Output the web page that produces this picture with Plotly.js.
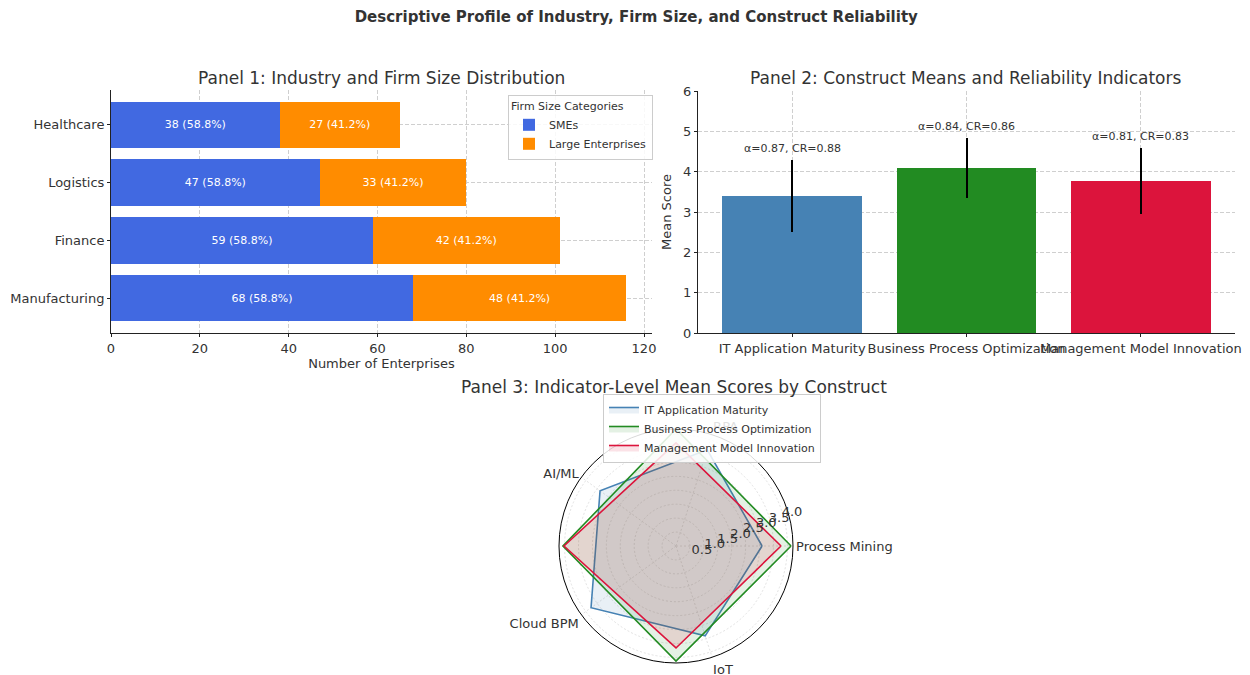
<!DOCTYPE html>
<html>
<head>
<meta charset="utf-8">
<script src="https://cdn.plot.ly/plotly-3.0.1.min.js"></script>
<style>html,body{margin:0;padding:0;background:#fff;}#chart{width:1250px;height:675px;}</style>
</head>
<body>
<div id="chart"></div>
<script>
// ---------- Panel 1 data ----------
const industries = ['Manufacturing', 'Finance', 'Logistics', 'Healthcare'];
const smeCounts = [68, 59, 47, 38];
const largeCounts = [48, 42, 33, 27];
const smePct = [58.8, 58.8, 58.8, 58.8];
const largePct = [41.2, 41.2, 41.2, 41.2];
const sizeNames = ['SMEs', 'Large Enterprises'];

// ---------- Panel 2 data ----------
const constructs = ['IT Application Maturity', 'Business Process Optimization', 'Management Model Innovation'];
const constructMeans = [3.40, 4.09, 3.77];
const constructSD = [0.89, 0.75, 0.81];
const alphas = [0.87, 0.84, 0.81];
const crs = [0.88, 0.86, 0.83];

// ---------- Panel 3 data ----------
const indicatorLabels = ['Process Mining', 'RPA', 'AI/ML', 'Cloud BPM', 'IoT'];
const itScores = [3.09, 3.63, 3.37, 3.77, 3.39];
const bpoScores = [4.13, 4.20, 4.06, 4.13];
const mmiScores = [3.77, 3.70, 4.02, 3.66];
const radialTicks = [0.5, 1.0, 1.5, 2.0, 2.5, 3.0, 3.5, 4.0];

const FONT = 'DejaVu Sans, Liberation Sans, sans-serif';
const TXT = '#333333';
const GRID = '#cfcfcf';
const GDASH = '4px,2px';

const traces = [];
traces.push({
  type: 'bar', orientation: 'h', name: sizeNames[0],
  y: industries, x: smeCounts,
  text: smeCounts.map((v, i) => v + ' (' + smePct[i].toFixed(1) + '%)'),
  textposition: 'inside', insidetextanchor: 'middle', textangle: 0,
  textfont: {color: '#ffffff', size: 11, family: FONT},
  marker: {color: '#4169E1'}, xaxis: 'x', yaxis: 'y', legend: 'legend', hoverinfo: 'skip'
});
traces.push({
  type: 'bar', orientation: 'h', name: sizeNames[1],
  y: industries, x: largeCounts,
  text: largeCounts.map((v, i) => v + ' (' + largePct[i].toFixed(1) + '%)'),
  textposition: 'inside', insidetextanchor: 'middle', textangle: 0,
  textfont: {color: '#ffffff', size: 11, family: FONT},
  marker: {color: '#FF8C00'}, xaxis: 'x', yaxis: 'y', legend: 'legend', hoverinfo: 'skip'
});
traces.push({
  type: 'bar', x: constructs, y: constructMeans, showlegend: false,
  marker: {color: ['#4682B4', '#228B22', '#DC143C']},
  error_y: {type: 'data', array: constructSD, visible: true, color: '#000000', thickness: 2, width: 0},
  xaxis: 'x2', yaxis: 'y2', hoverinfo: 'skip'
});

const radarSeries = [
  {name: constructs[0], vals: itScores, color: '#4682B4', fill: 'rgba(70,130,180,0.12)'},
  {name: constructs[1], vals: bpoScores, color: '#228B22', fill: 'rgba(34,139,34,0.12)'},
  {name: constructs[2], vals: mmiScores, color: '#DC143C', fill: 'rgba(220,20,60,0.12)'}
];
radarSeries.forEach(s => {
  const th = s.vals.map((_, i) => i * 360 / s.vals.length);
  traces.push({
    type: 'scatterpolar', mode: 'lines', name: s.name,
    r: s.vals.concat([s.vals[0]]), theta: th.concat([360]),
    fill: 'toself', fillcolor: s.fill,
    line: {color: s.color, width: 1.6},
    legend: 'legend2', subplot: 'polar', hoverinfo: 'skip'
  });
});

const annotations = [
  {text: 'Panel 1: Industry and Firm Size Distribution', x: 0.305, y: 1 - 78 / 675, xref: 'paper', yref: 'paper', showarrow: false, font: {size: 17, color: TXT, family: FONT}, xanchor: 'center', yanchor: 'middle'},
  {text: 'Panel 2: Construct Means and Reliability Indicators', x: 0.773, y: 1 - 78 / 675, xref: 'paper', yref: 'paper', showarrow: false, font: {size: 17, color: TXT, family: FONT}, xanchor: 'center', yanchor: 'middle'},
  {text: 'Panel 3: Indicator-Level Mean Scores by Construct', x: 0.539, y: 1 - 387 / 675, xref: 'paper', yref: 'paper', showarrow: false, font: {size: 17, color: TXT, family: FONT}, xanchor: 'center', yanchor: 'middle'}
];
constructs.forEach((c, i) => {
  annotations.push({
    text: 'α=' + alphas[i].toFixed(2) + ', CR=' + crs[i].toFixed(2),
    x: c, y: constructMeans[i] + constructSD[i], xref: 'x2', yref: 'y2',
    showarrow: false, yanchor: 'bottom', yshift: 3,
    font: {size: 11, color: TXT, family: FONT}
  });
});

const layout = {
  width: 1250, height: 675,
  margin: {l: 0, r: 0, t: 0, b: 0},
  paper_bgcolor: '#ffffff', plot_bgcolor: '#ffffff',
  font: {family: FONT, color: TXT, size: 13},
  title: {text: '<b>Descriptive Profile of Industry, Firm Size, and Construct Reliability</b>', x: 0.509, xanchor: 'center', y: 1 - 17 / 675, yanchor: 'middle', font: {size: 15, color: TXT, family: FONT}},
  barmode: 'stack', bargap: 0.2,
  xaxis: {
    domain: [111 / 1250, 652 / 1250], range: [0, 121.8], tickvals: [0, 20, 40, 60, 80, 100, 120],
    showgrid: true, gridcolor: GRID, griddash: GDASH, zeroline: false,
    showline: true, linecolor: '#222', linewidth: 1, ticks: 'outside', ticklen: 3, tickcolor: '#222',
    tickfont: {size: 13, color: TXT},
    title: {text: 'Number of Enterprises', font: {size: 13, color: TXT}, standoff: 2},
    anchor: 'y'
  },
  yaxis: {
    domain: [1 - 333 / 675, 1 - 90 / 675], range: [-0.6, 3.6], type: 'category',
    showgrid: true, gridcolor: GRID, griddash: GDASH, zeroline: false,
    showline: true, linecolor: '#222', linewidth: 1, ticks: 'outside', ticklen: 3, tickcolor: '#222',
    tickfont: {size: 13, color: TXT}, anchor: 'x'
  },
  xaxis2: {
    domain: [698 / 1250, 1235 / 1250], range: [-0.54, 2.54], type: 'category', tickangle: 0,
    showgrid: true, gridcolor: GRID, griddash: GDASH, zeroline: false,
    showline: true, linecolor: '#222', linewidth: 1, ticks: 'outside', ticklen: 3, tickcolor: '#222',
    tickfont: {size: 13, color: TXT}, anchor: 'y2'
  },
  yaxis2: {
    domain: [1 - 333 / 675, 1 - 91 / 675], range: [0, 6], dtick: 1,
    showgrid: true, gridcolor: GRID, griddash: GDASH, zeroline: false,
    showline: true, linecolor: '#222', linewidth: 1, ticks: 'outside', ticklen: 3, tickcolor: '#222',
    tickfont: {size: 13, color: TXT},
    title: {text: 'Mean Score', font: {size: 13, color: TXT}, standoff: 8},
    anchor: 'x2'
  },
  polar: {
    domain: {x: [559 / 1250, 793 / 1250], y: [1 - 663 / 675, 1 - 429 / 675]},
    bgcolor: '#ffffff',
    radialaxis: {
      range: [0, 4.2], tickmode: 'array', tickvals: radialTicks, ticktext: radialTicks.map(v => v.toFixed(1)),
      angle: 22.5, tickangle: 22.5, showline: false, ticks: '',
      gridcolor: '#e2e2e2', griddash: '2px,2px', tickfont: {size: 13, color: TXT}
    },
    angularaxis: {
      thetaunit: 'degrees', rotation: 0, direction: 'counterclockwise',
      tickmode: 'array', tickvals: indicatorLabels.map((_, i) => i * 360 / indicatorLabels.length), ticktext: indicatorLabels,
      showline: true, linecolor: '#000', linewidth: 1, ticks: '',
      gridcolor: '#e2e2e2', griddash: '2px,2px', tickfont: {size: 13, color: TXT}
    }
  },
  legend: {
    x: 508 / 1250, y: 1 - 95 / 675, xanchor: 'left', yanchor: 'top', traceorder: 'normal',
    title: {text: 'Firm Size Categories', side: 'top', font: {size: 11, color: TXT}},
    font: {size: 11, color: TXT}, bgcolor: 'rgba(255,255,255,0.85)', bordercolor: '#cccccc', borderwidth: 1,
    tracegroupgap: 0, itemwidth: 30
  },
  legend2: {
    x: 603 / 1250, y: 1 - 394 / 675, xanchor: 'left', yanchor: 'top', traceorder: 'normal',
    font: {size: 11, color: TXT}, bgcolor: 'rgba(255,255,255,0.85)', bordercolor: '#cccccc', borderwidth: 1,
    tracegroupgap: 0, itemwidth: 30
  },
  annotations: annotations,
  showlegend: true
};

Plotly.newPlot('chart', traces, layout, {displayModeBar: false, staticPlot: true});
</script>
</body>
</html>
